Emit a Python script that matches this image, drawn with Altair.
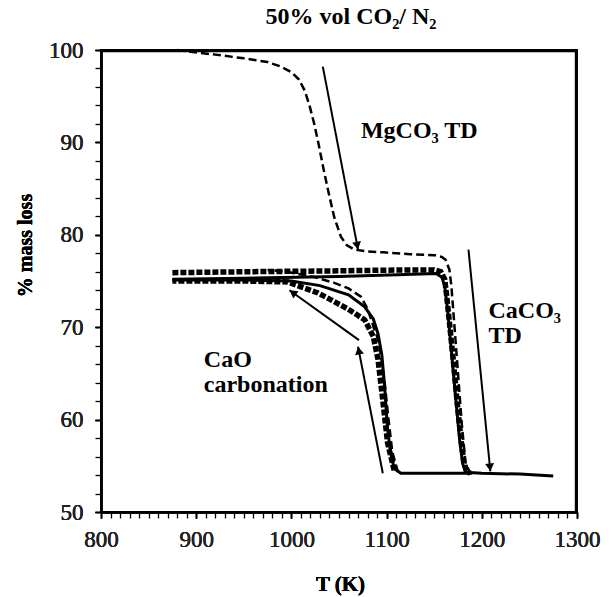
import math
import altair as alt
import pandas as pd

# ---------------- data ----------------
mg_T = [880, 894, 920, 950, 975, 989, 1000, 1008, 1014, 1019, 1024, 1029, 1034, 1039, 1045, 1052, 1058, 1066, 1080, 1097, 1125, 1150, 1158, 1162, 1166, 1168, 1171, 1175, 1179, 1183, 1188]
mg_M = [100.0, 99.8, 99.5, 99.1, 98.7, 98.2, 97.6, 96.8, 95.6, 94.0, 92.0, 89.6, 87.0, 84.6, 81.9, 79.8, 78.9, 78.4, 78.2, 78.1, 77.9, 77.8, 77.6, 77.3, 76.2, 74.5, 70.5, 65.0, 59.5, 55.2, 54.2]

h1_T = [875, 950, 1050, 1120, 1150, 1157, 1161, 1163, 1166, 1170, 1174, 1178, 1181, 1184, 1188]
h1_M = [75.9, 76.0, 76.1, 76.2, 76.2, 76.0, 75.2, 73.5, 70.5, 66.5, 62.0, 58.0, 55.5, 54.4, 54.2]

s1_T = [875, 950, 1050, 1120, 1152, 1158, 1161, 1164, 1168, 1172, 1177, 1180, 1183, 1200, 1240, 1275]
s1_M = [75.2, 75.3, 75.5, 75.7, 75.8, 75.4, 74.5, 72.0, 67.5, 63.0, 57.5, 55.2, 54.3, 54.2, 54.1, 53.9]

s2_T = [1190, 1150, 1115, 1108, 1104, 1101, 1098, 1095, 1091, 1086, 1077, 1060, 1030, 1000, 950, 875]
s2_M = [54.2, 54.2, 54.2, 54.7, 56.5, 59.0, 63.5, 67.0, 69.3, 70.9, 72.2, 73.5, 74.5, 75.0, 75.1, 75.1]

h2_T = [1108, 1101, 1096, 1091, 1086, 1077, 1059, 1028, 996, 950, 875]
h2_M = [54.5, 57.5, 62.1, 66.5, 69.0, 70.8, 72.0, 73.7, 74.9, 75.0, 75.0]

d2_T = [1112, 1106, 1102, 1098, 1094, 1090, 1087, 1080, 1073, 1060, 1045, 1025, 1010, 995, 975]
d2_M = [54.3, 56.5, 60.0, 64.0, 67.0, 69.0, 69.8, 72.0, 73.3, 74.2, 74.8, 75.4, 75.7, 76.0, 76.2]

arrow_T1 = [1033, 1186, 1096, 1071]
arrow_M1 = [98.2, 78.4, 54.2, 68.6]
arrow_T2 = [1070, 1209, 1070, 998]
arrow_M2 = [78.4, 54.4, 67.9, 74.0]

label_text = ["MgCO₃ TD", "CaCO₃", "TD", "CaO", "carbonation"]
label_T = [1073, 1207, 1207, 908, 908]
label_M = [90.5, 71.0, 68.3, 65.7, 63.0]

# plot frame: top edge then right edge (just inside the axis limits)
frame_T = [800, 1299, 1299]
frame_M = [99.9, 99.9, 50]

x_major = [800, 900, 1000, 1100, 1200, 1300]
y_major = [50, 60, 70, 80, 90, 100]
x_minor = list(range(800, 1301, 10))
y_minor = list(range(50, 101, 2))

def series_df(name, ts, ms):
    return pd.DataFrame({"s": name, "T": ts, "M": ms, "i": range(len(ts))})

thin_dashed = pd.concat([series_df("mg", mg_T, mg_M), series_df("d2", d2_T, d2_M)])
heavy_dashed = pd.concat([series_df("h1", h1_T, h1_M), series_df("h2", h2_T, h2_M)])
solid = pd.concat([series_df("s1", s1_T, s1_M), series_df("s2", s2_T, s2_M)])
frame_df = series_df("frame", frame_T, frame_M)

W, H = 476, 462
px_T = W / 500.0
px_M = H / 50.0
heads = []
for t1, m1, t2, m2 in zip(arrow_T1, arrow_M1, arrow_T2, arrow_M2):
    dx = (t2 - t1) * px_T
    dy = -(m2 - m1) * px_M
    ang = math.degrees(math.atan2(dx, -dy)) % 360
    L = math.hypot(dx, dy)
    back = 4.0
    heads.append({"T": t2 - (dx / L) * back / px_T, "M": m2 + (dy / L) * back / px_M, "ang": ang})
arrows = pd.DataFrame({"T1": arrow_T1, "M1": arrow_M1, "T2": arrow_T2, "M2": arrow_M2})
heads = pd.DataFrame(heads)
labels = pd.DataFrame({"txt": label_text, "T": label_T, "M": label_M})

FONT = "Liberation Serif"

xscale = alt.Scale(domain=[800, 1300], nice=False, zero=False)
yscale = alt.Scale(domain=[50, 100], nice=False, zero=False)

xaxis = alt.Axis(
    orient="bottom", values=x_major, format="d", labelOverlap=False, labelFlush=False,
    tickSize=6, labelPadding=10,
    title="T (K)", titleX=239, titleY=72, titleBaseline="middle", titleAlign="center",
    titleFontSize=21,
)
yaxis = alt.Axis(
    orient="left", values=y_major, format="d", labelOverlap=False, labelFlush=False,
    tickSize=6, labelPadding=12,
    title="% mass loss", titleX=-76, titleY=195, titleAngle=-90,
    titleBaseline="middle", titleAlign="center",
)
xminor = alt.Axis(orient="bottom", values=x_minor, labels=False, domain=False, tickSize=6, title=None)
yminor = alt.Axis(orient="left", values=y_minor, labels=False, domain=False, tickSize=6, title=None)


def lines(df, width, dash=None):
    kw = dict(color="black", strokeWidth=width)
    if dash:
        kw["strokeDash"] = dash
    return alt.Chart(df).mark_line(**kw).encode(
        x=alt.X("T:Q", scale=xscale, axis=xaxis),
        y=alt.Y("M:Q", scale=yscale, axis=yaxis),
        detail="s:N",
        order="i:Q",
    )

l_frame = lines(frame_df, 2.5)
l_solid = lines(solid, 3)
l_heavy = lines(heavy_dashed, 5.5, [6, 2])
l_thin = lines(thin_dashed, 2.5, [8, 4])

minor_layer = alt.Chart(solid).mark_point(opacity=0).encode(
    x=alt.X("T:Q", scale=xscale, axis=xminor),
    y=alt.Y("M:Q", scale=yscale, axis=yminor),
)

arrow_lines = alt.Chart(arrows).mark_rule(color="black", strokeWidth=2).encode(
    x=alt.X("T1:Q", axis=None), y=alt.Y("M1:Q", axis=None), x2="T2:Q", y2="M2:Q"
)
arrow_heads = alt.Chart(heads).mark_point(
    shape="triangle-up", filled=True, color="black", size=80, opacity=1
).encode(x=alt.X("T:Q", axis=None), y=alt.Y("M:Q", axis=None),
         angle=alt.Angle("ang:Q", scale=None))

texts = alt.Chart(labels).mark_text(
    font=FONT, fontSize=24, fontWeight="bold", align="left", baseline="alphabetic", color="black"
).encode(x=alt.X("T:Q", axis=None), y=alt.Y("M:Q", axis=None), text="txt:N")

chart = alt.layer(
    l_solid, minor_layer, l_frame, l_heavy, l_thin, arrow_lines, arrow_heads, texts
).resolve_axis(x="independent", y="independent").properties(
    width=W, height=H,
    padding={"left": 101, "top": 50, "right": 34, "bottom": 85},
    autosize=alt.AutoSizeParams(type="none"),
    title=alt.Title("50% vol CO₂/ N₂", font=FONT, fontSize=24, fontWeight="bold",
                    anchor="middle", frame="group", dx=12, offset=10, color="black"),
).configure_view(stroke="black", strokeWidth=2).configure_axis(
    grid=False, domainColor="black", domainWidth=2, tickColor="black", tickWidth=1.3,
    labelFont=FONT, labelFontSize=23, labelColor="#222",
    titleFont=FONT, titleFontWeight="bold", titleFontSize=20, titleColor="black",
)

chart.save("out.html", embed_options={"renderer": "svg", "actions": False})
